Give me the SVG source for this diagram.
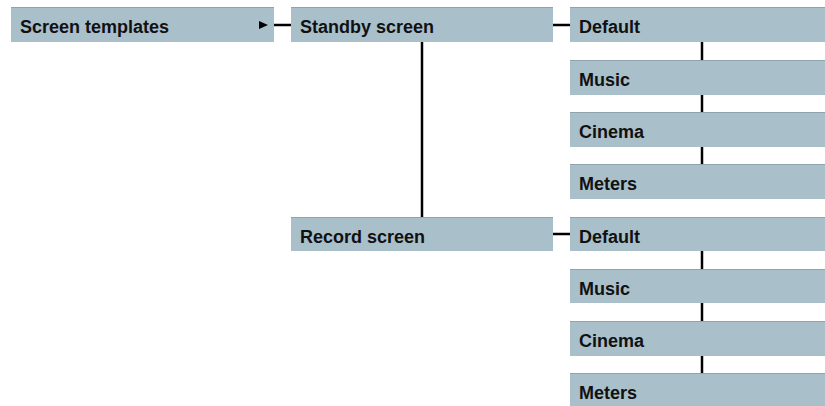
<svg xmlns="http://www.w3.org/2000/svg" width="825" height="406" viewBox="0 0 825 406">
<style>
.box{fill:#a9bfca;stroke:none}
.edge{fill:#8fa3ad}
.lbl{font-family:"Liberation Sans",Arial,sans-serif;font-weight:bold;font-size:18px;fill:#111}
.c{stroke:#000;stroke-width:2.5;fill:none}
</style>
<rect width="825" height="406" fill="#ffffff"/>
<g id="screen-templates"><rect class="box" x="11" y="7" width="263" height="35"/><rect class="edge" x="11" y="7" width="263" height="1"/><text class="lbl" x="20" y="33">Screen templates</text></g>
<g id="standby-screen"><rect class="box" x="291" y="7" width="262" height="35"/><rect class="edge" x="291" y="7" width="262" height="1"/><text class="lbl" x="300" y="33">Standby screen</text></g>
<g id="record-screen"><rect class="box" x="291" y="217" width="262" height="34"/><rect class="edge" x="291" y="217" width="262" height="1"/><text class="lbl" x="300" y="243">Record screen</text></g>
<g id="standby-default"><rect class="box" x="570" y="7" width="255" height="35"/><rect class="edge" x="570" y="7" width="255" height="1"/><text class="lbl" x="579" y="33">Default</text></g>
<g id="standby-music"><rect class="box" x="570" y="60" width="255" height="35"/><rect class="edge" x="570" y="60" width="255" height="1"/><text class="lbl" x="579" y="86">Music</text></g>
<g id="standby-cinema"><rect class="box" x="570" y="112" width="255" height="35"/><rect class="edge" x="570" y="112" width="255" height="1"/><text class="lbl" x="579" y="138">Cinema</text></g>
<g id="standby-meters"><rect class="box" x="570" y="164" width="255" height="35"/><rect class="edge" x="570" y="164" width="255" height="1"/><text class="lbl" x="579" y="190">Meters</text></g>
<g id="record-default"><rect class="box" x="570" y="217" width="255" height="34"/><rect class="edge" x="570" y="217" width="255" height="1"/><text class="lbl" x="579" y="243">Default</text></g>
<g id="record-music"><rect class="box" x="570" y="269" width="255" height="34"/><rect class="edge" x="570" y="269" width="255" height="1"/><text class="lbl" x="579" y="295">Music</text></g>
<g id="record-cinema"><rect class="box" x="570" y="321" width="255" height="35"/><rect class="edge" x="570" y="321" width="255" height="1"/><text class="lbl" x="579" y="347">Cinema</text></g>
<g id="record-meters"><rect class="box" x="570" y="373" width="255" height="35"/><rect class="edge" x="570" y="373" width="255" height="1"/><text class="lbl" x="579" y="399">Meters</text></g>
<g id="connectors">
<polygon points="259,21 268,25 259,29" fill="#000"/>
<line class="c" x1="274" y1="25" x2="291" y2="25"/>
<line class="c" x1="553" y1="25" x2="570" y2="25"/>
<line class="c" x1="422" y1="42" x2="422" y2="217"/>
<line class="c" x1="553" y1="234" x2="570" y2="234"/>
<line class="c" x1="702" y1="42" x2="702" y2="60"/>
<line class="c" x1="702" y1="95" x2="702" y2="112"/>
<line class="c" x1="702" y1="147" x2="702" y2="164"/>
<line class="c" x1="702" y1="251" x2="702" y2="269"/>
<line class="c" x1="702" y1="303" x2="702" y2="321"/>
<line class="c" x1="702" y1="356" x2="702" y2="373"/>
</g>
</svg>
